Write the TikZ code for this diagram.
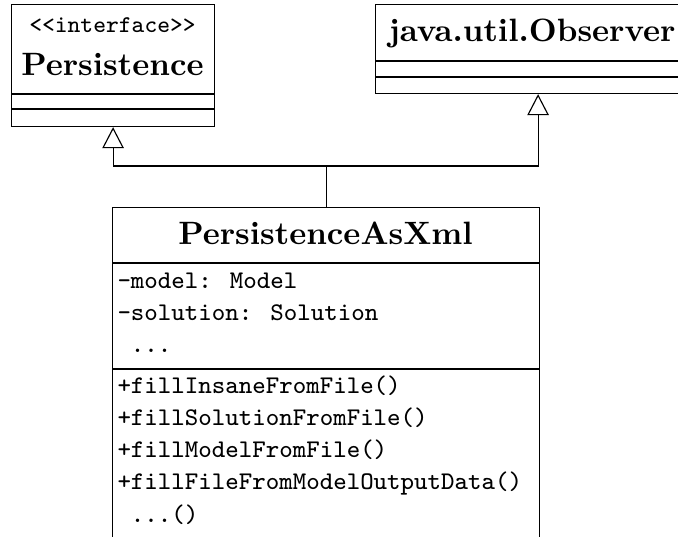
\documentclass[tikz,border=0pt]{standalone}
\usepackage{fontspec}
\newfontfamily\classnamefont{lmroman10-bold.otf}
\newfontfamily\memberfont{lmmono8-regular.otf}
\usetikzlibrary{arrows.meta,calc}
\begin{document}
\begin{tikzpicture}[x=0.3898pt,y=-0.3898pt,
  frame/.style={draw, line width=0.45pt, inner sep=0pt, anchor=north west},
  rule/.style={line width=0.45pt},
  title/.style={anchor=base, inner sep=0pt, font=\classnamefont\fontsize{12.6}{15}\selectfont},
  stereo/.style={anchor=base, inner sep=0pt, font=\memberfont\fontsize{9.4}{11}\selectfont},
  member/.style={anchor=base west, inner sep=0pt, font=\memberfont\fontsize{9.9}{12}\selectfont},
  inherit/.style={line width=0.45pt, -{Triangle[open, length=8.2pt, width=8.4pt, line width=0.45pt]}}]
\useasboundingbox (0,0) rectangle (678,537);
\clip (0,0) rectangle (678,537);

% interface Persistence
\node[frame, minimum width=203*0.3898pt, minimum height=122*0.3898pt] (persist) at (11,4) {};
\node[stereo] (persist-stereo) at (112.5,33) {{<}{<}interface{>}{>}};
\node[title] (persist-name) at (112.5,76) {Persistence};
\draw[rule] (persist.west |- 0,94) -- (persist.east |- 0,94);
\draw[rule] (persist.west |- 0,109) -- (persist.east |- 0,109);

% java.util.Observer
\node[frame, minimum width=325*0.3898pt, minimum height=89*0.3898pt] (observer) at (375,4) {};
\node[title] (observer-name) at (532,42) {java.util.Observer};
\draw[rule] (observer.west |- 0,61) -- (observer.east |- 0,61);
\draw[rule] (observer.west |- 0,77) -- (observer.east |- 0,77);

% class PersistenceAsXml
\node[frame, minimum width=427*0.3898pt, minimum height=360*0.3898pt] (pxml) at (112,207) {};
\node[title] (pxml-name) at (325.5,245) {PersistenceAsXml};
\draw[rule] (pxml.west |- 0,263) -- (pxml.east |- 0,263);
\draw[rule] (pxml.west |- 0,369) -- (pxml.east |- 0,369);

\node[member] (a1) at (117,289) {-model: Model};
\node[member] (a2) at (117,321) {-solution: Solution};
\node[member] (a3) at (117,353) {\hphantom{-}...};

\node[member] (m1) at (117,394) {+fillInsaneFromFile()};
\node[member] (m2) at (117,426) {+fillSolutionFromFile()};
\node[member] (m3) at (117,458) {+fillModelFromFile()};
\node[member] (m4) at (117,490) {+fillFileFromModelOutputData()};
\node[member] (m5) at (117,522) {\hphantom{+}...()};

% generalisation connectors
\coordinate (join) at (pxml.north |- 0,166);
\draw[rule] (pxml.north) -- (join);
\draw[inherit] (join) -| (persist.south);
\draw[inherit] (join) -| (observer.south);
\end{tikzpicture}
\end{document}
